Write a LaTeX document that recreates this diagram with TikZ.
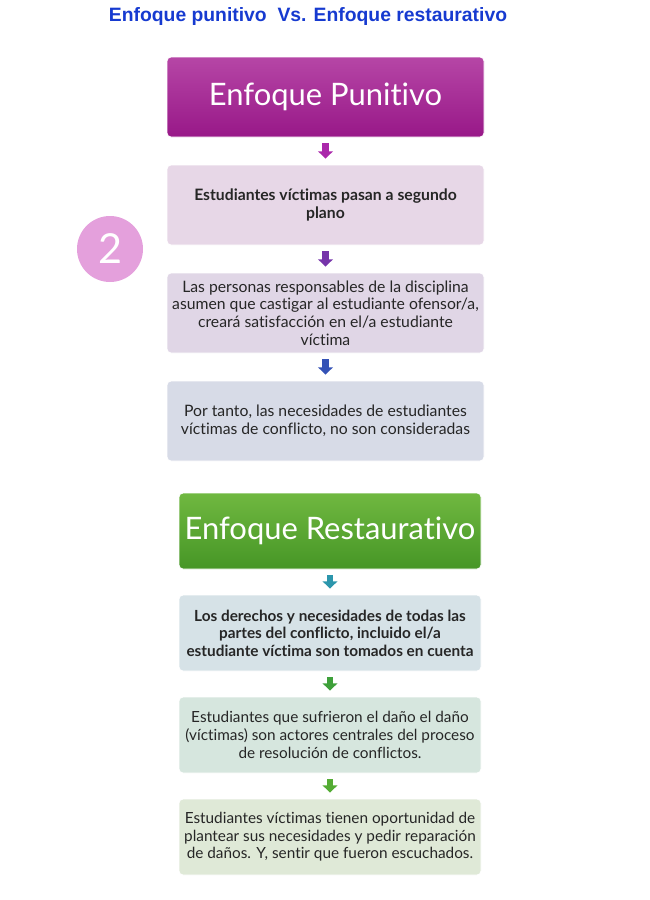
\documentclass[tikz,border=0pt]{standalone}
\usepackage{fontspec}
\setmainfont{Lato}[Ligatures=NoCommon]
\newfontfamily\headfont{Liberation Sans}
\usetikzlibrary{arrows.meta}
\definecolor{titleblue}{RGB}{22,58,208}
\definecolor{punA}{RGB}{182,70,166}
\definecolor{punB}{RGB}{152,24,136}
\definecolor{resA}{RGB}{112,184,64}
\definecolor{resB}{RGB}{70,150,38}
\definecolor{fillP1}{RGB}{231,215,231}
\definecolor{fillP2}{RGB}{224,214,230}
\definecolor{fillP3}{RGB}{215,219,231}
\definecolor{fillR1}{RGB}{214,226,231}
\definecolor{fillR2}{RGB}{214,230,222}
\definecolor{fillR3}{RGB}{223,233,215}
\definecolor{numpink}{RGB}{228,160,220}
\definecolor{arrA}{RGB}{170,40,170}
\definecolor{arrB}{RGB}{118,52,170}
\definecolor{arrC}{RGB}{52,82,182}
\definecolor{arrD}{RGB}{44,150,172}
\definecolor{arrE}{RGB}{62,160,58}
\definecolor{arrF}{RGB}{84,172,52}
\tikzstyle{brick} = [rectangle, rounded corners=3pt, draw=white, line width=0.6pt, inner xsep=1pt, minimum width=237.75pt, minimum height=60pt, align=center, text=black!85, font=\fontsize{11.8}{13.3}\selectfont]
\tikzstyle{restbrick} = [brick, minimum width=226.5pt, minimum height=57pt, font=\fontsize{11.5}{13.2}\selectfont]
\tikzstyle{headtext} = [text=white, font=\fontsize{23.2}{26}\selectfont]
\tikzstyle{flow} = [line width=5pt, -{Triangle[width=11pt,length=5.5pt]}, shorten <=4.5pt, shorten >=4.5pt]

\begin{document}
\begin{tikzpicture}[x=0.75pt, y=-0.75pt, node distance=81pt]
        \useasboundingbox (0,0) rectangle (650,900);
        \node (title) at (308,16) [text=titleblue, font=\headfont\bfseries\fontsize{14.5}{16}\selectfont] {Enfoque punitivo\ \ Vs. Enfoque restaurativo};
        \node (pun) at (325.5,97) [brick, headtext, top color=punA, bottom color=punB] {Enfoque Punitivo};
        \node (pv)  [brick, fill=fillP1, below of=pun] {\bfseries Estudiantes víctimas pasan a segundo\\\bfseries plano};
        \node (pd)  [brick, fill=fillP2, below of=pv] {Las personas responsables de la disciplina\\asumen que castigar al estudiante ofensor/a,\\creará satisfacción en el/a estudiante\\víctima};
        \node (pn)  [brick, fill=fillP3, below of=pd] {Por tanto, las necesidades de estudiantes\\víctimas de conflicto, no son consideradas};
        \node (num) at (110,249) [circle, fill=numpink, minimum size=49.5pt, text=white, font=\fontsize{31}{34}\selectfont] {2};
        \begin{scope}[node distance=76.5pt]
        \node (res) at (330,531) [restbrick, headtext, top color=resA, bottom color=resB] {Enfoque Restaurativo};
        \node (rd)  [restbrick, fill=fillR1, below of=res] {\bfseries Los derechos y necesidades de todas las\\\bfseries partes del conflicto, incluido el/a\\\bfseries estudiante víctima son tomados en cuenta};
        \node (ra)  [restbrick, fill=fillR2, below of=rd] {Estudiantes que sufrieron el daño el daño\\(víctimas) son actores centrales del proceso\\de resolución de conflictos.};
        \node (ro)  [restbrick, fill=fillR3, below of=ra] {Estudiantes víctimas tienen oportunidad de\\plantear sus necesidades y pedir reparación\\de daños. Y, sentir que fueron escuchados.};
        \end{scope}
        \draw [flow, arrA] (pun) -- (pv);
        \draw [flow, arrB] (pv) -- (pd);
        \draw [flow, arrC] (pd) -- (pn);
        \draw [flow, arrD] (res) -- (rd);
        \draw [flow, arrE] (rd) -- (ra);
        \draw [flow, arrF] (ra) -- (ro);
    \end{tikzpicture}
\end{document}
